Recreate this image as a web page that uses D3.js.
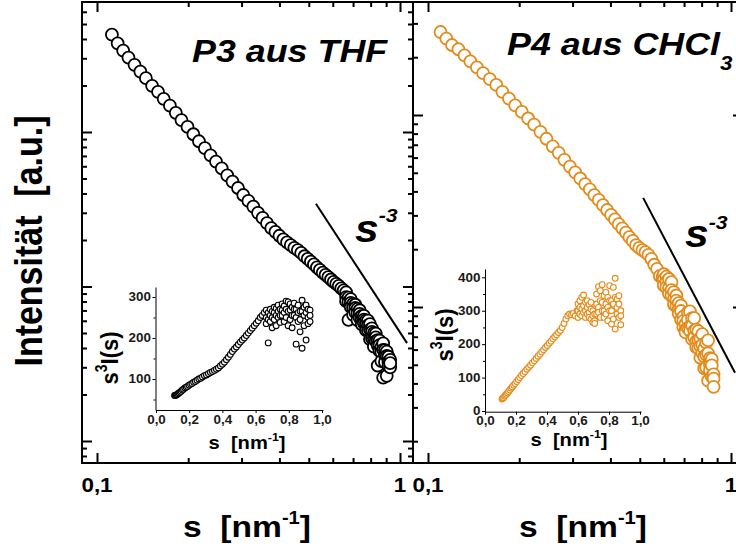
<!DOCTYPE html>
<html><head><meta charset="utf-8">
<script src="https://cdn.jsdelivr.net/npm/d3@7/dist/d3.min.js"></script>
<style>
body{margin:0;background:#fff;}
svg{display:block;}
text{font-family:"Liberation Sans",Arial,sans-serif;font-weight:bold;fill:#000;}
</style></head><body>
<svg id="chart" width="736" height="546"></svg>
<script>
// ---------------- data ----------------
// P3 aus THF : s [nm^-1], main intensity I (a.u.), inset s^3 I(s)
const p3TrendS=[0.112,0.117,0.122,0.127,0.133,0.139,0.145,0.152,0.159,0.166,0.174,0.182,0.190,0.199,0.208,0.217,0.227,0.237,0.247,0.258,0.269,0.280,0.292,0.304,0.316,0.328,0.340,0.352,0.364,0.376,0.388,0.400,0.412,0.424,0.436,0.448,0.460,0.472,0.484,0.496,0.508,0.520,0.532,0.544,0.556,0.568,0.580,0.592,0.604,0.616,0.628,0.640,0.652];
const p3TrendI=[42700,37500,33600,30300,27200,24600,22300,19900,18200,16400,14800,13300,11950,10780,9670,8710,7860,7060,6440,5820,5240,4780,4340,3910,3580,3290,3000,2780,2570,2390,2260,2130,2020,1930,1850,1780,1720,1650,1570,1510,1450,1390,1330,1280,1230,1190,1150,1110,1070,1040,1010,973,945];
const p3TrendV=[60,60,61,62,64,66,68,70,73,75,78,80,82,85,87,89,92,94,97,100,102,105,108,110,113,116,118,121,124,127,132,136,141,147,153,160,167,173,178,184,190,195,200,206,212,218,224,230,236,242,250,255,262];
const p3HiS=[0.664,0.676,0.688,0.700,0.712,0.724,0.736,0.748,0.760,0.772,0.784,0.796,0.808,0.820,0.832,0.844,0.856,0.868,0.880,0.892,0.904,0.916,0.928];
const p3HiUpperI=[915,848,829,773,762,717,702,645,645,604,602,571,536,499,495,449,447,405,429,388,379,351,335];
const p3HiMiddleI=[854,794,783,729,726,672,665,609,610,569,560,525,508,462,469,416,418,375,389,359,355,325,300];
const p3HiLowerI=[803,609,737,656,679,606,627,569,581,522,519,456,464,408,443,308,383,329,257,324,264,306,319];
const p3HiUpperV=[268,262,270,265,275,272,280,270,283,278,290,288,283,275,285,270,280,265,292,275,280,270,268];
const p3HiMiddleV=[250,245,255,250,262,255,265,255,268,262,270,265,268,255,270,250,262,245,265,255,262,250,240];
const p3HiLowerV=[235,188,240,225,245,230,250,238,255,240,250,230,245,225,255,185,240,215,175,230,195,235,255];

// P4 aus CHCl3
const p4TrendS=[0.110,0.115,0.120,0.126,0.132,0.138,0.145,0.152,0.160,0.168,0.176,0.185,0.194,0.204,0.214,0.224,0.235,0.246,0.258,0.270,0.282,0.294,0.306,0.318,0.330,0.342,0.354,0.366,0.378,0.390,0.402,0.414,0.426,0.438,0.450,0.462,0.474,0.486,0.498,0.510,0.522,0.534,0.546,0.558,0.570,0.582,0.594];
const p4TrendI=[27050,24990,23150,22000,20430,19020,17710,16520,15380,14340,13210,12160,11230,10370,9590,8900,8170,7520,6870,6350,5840,5390,5030,4670,4370,4100,3830,3610,3390,3200,3020,2860,2700,2570,2440,2310,2210,2100,2030,1980,1930,1870,1780,1660,1580,1450,1430];
const p4TrendV=[36,38,40,44,47,50,54,58,63,68,72,77,82,88,94,100,106,112,118,125,131,137,144,150,157,164,170,177,183,190,196,203,209,216,222,228,235,241,250,262,275,285,290,288,292,285,300];
const p4HiS=[0.600,0.612,0.624,0.636,0.648,0.660,0.672,0.684,0.696,0.708,0.720,0.732,0.744,0.756,0.768,0.780,0.792,0.804,0.816,0.828,0.840,0.852,0.864,0.876];
const p4HiUpperI=[1481,1439,1399,1349,1195,1148,1048,1016,890,817,938,948,874,875,762,748,684,722,607,652,670,542,535,446];
const p4HiMiddleI=[1389,1352,1255,1224,1103,1079,972,953,845,761,857,791,801,752,662,674,624,635,552,564,574,501,496,424];
const p4HiLowerI=[1296,1265,1173,1147,1029,1009,923,859,786,738,777,752,680,694,618,611,544,577,479,484,413,469,434,384];
const p4HiUpperV=[320,330,340,347,325,330,318,325,300,290,350,372,360,378,345,355,340,375,330,370,397,335,345,300];
const p4HiMiddleV=[300,310,305,315,300,310,295,305,285,270,320,310,330,325,300,320,310,330,300,320,340,310,320,285];
const p4HiLowerV=[280,290,285,295,280,290,280,275,265,262,290,295,280,300,280,290,270,300,260,275,245,290,280,258];

// s^-3 guide lines
const p3SlopeS=[0.528,1.055], p3SlopeI=[3430,430];
const p4SlopeS=[0.513,1.031], p4SlopeI=[3700,455];

// tick labels
const mainXTickValues=[0.1,1], mainXTickLabels=["0,1","1"];
const insetXTickValues=[0,0.2,0.4,0.6,0.8,1.0];
const insetXTickLabels=["0,0","0,2","0,4","0,6","0,8","1,0"];
const p3InsetYTicks=[100,200,300], p3InsetYMinor=[50,150,250];
const p4InsetYTicks=[0,100,200,300,400], p4InsetYMinor=[50,150,250,350];

// ---------------- drawing ----------------
const SX=1.12, ORANGE="#e38b1b";
const svg=d3.select("#chart");
svg.append("rect").attr("width",736).attr("height",546).attr("fill","#fff");

function pts(sArr,vArr){return sArr.map((s,k)=>({s:s,v:vArr[k]}));}
function txt(g,x,y,str,size,opts={}){
  const t=g.append("text")
    .attr("transform",`translate(${x},${y}) scale(${SX},1)`+(opts.rot?" rotate(-90)":""))
    .attr("font-size",size).attr("text-anchor",opts.anchor||"start");
  if(opts.italic) t.attr("font-style","italic");
  if(opts.fill) t.style("fill",opts.fill);
  return t;
}

function mainPanel(o){
  const g=svg.append("g");
  const x=d3.scaleLog().domain([0.1,1]).range(o.xr);
  const y=d3.scaleLog().domain(o.yd).range(o.yr);
  const data=[...pts(o.trendS,o.trendI),...pts(o.hiS,o.hiU),...pts(o.hiS,o.hiM),...pts(o.hiS,o.hiL)]
    .sort((a,b)=>a.s-b.s);
  g.append("g").selectAll("circle").data(data).join("circle")
    .attr("cx",d=>x(d.s)).attr("cy",d=>y(d.v)).attr("r",6)
    .attr("fill","#fff").attr("stroke",o.color).attr("stroke-width",1.8);
  g.append("path").datum(pts(o.lineS,o.lineI))
    .attr("d",d3.line().x(d=>x(d.s)).y(d=>y(d.v)))
    .attr("fill","none").attr("stroke","#000").attr("stroke-width",2);
  const xs=x.copy().domain([x.invert(o.x0),x.invert(o.x1)]).range([o.x0,o.x1]);
  const ys=y.copy().domain([y.invert(o.y1),y.invert(o.y0)]).range([o.y1,o.y0]);
  const isMaj=v=>Math.abs(Math.log10(v)-Math.round(Math.log10(v)))<1e-6;
  const xt=xs.ticks().filter(v=>xs(v)>o.x0+3&&xs(v)<o.x1-3);
  const yt=ys.ticks().filter(v=>ys(v)>o.y0+3&&ys(v)<o.y1-3);
  function ax(gen,tx,ty,vals,size){
    g.append("g").attr("transform",`translate(${tx},${ty})`)
      .call(gen.tickValues(vals).tickSize(size).tickSizeOuter(0).tickFormat(""))
      .call(a=>a.select(".domain").remove())
      .selectAll("line").attr("stroke","#000").attr("stroke-width",2);
  }
  const xMa=xt.filter(isMaj), xMi=xt.filter(v=>!isMaj(v));
  const yMa=yt.filter(isMaj), yMi=yt.filter(v=>!isMaj(v));
  ax(d3.axisBottom(xs),0,o.y1,xMa,-10); ax(d3.axisBottom(xs),0,o.y1,xMi,-5);
  ax(d3.axisTop(xs),0,o.y0,xMa,-10);    ax(d3.axisTop(xs),0,o.y0,xMi,-5);
  ax(d3.axisLeft(ys),o.x0,0,yMa,-10);   ax(d3.axisLeft(ys),o.x0,0,yMi,-5);
  ax(d3.axisRight(ys),o.x1,0,yMa,-10);  ax(d3.axisRight(ys),o.x1,0,yMi,-5);
  g.append("rect").attr("x",o.x0).attr("y",o.y0).attr("width",o.x1-o.x0).attr("height",o.y1-o.y0)
    .attr("fill","none").attr("stroke","#000").attr("stroke-width",2);
  mainXTickValues.forEach((v,k)=>{
    txt(g,x(v),492,null,20,{anchor:"middle"}).text(mainXTickLabels[k]);
  });
  return {x,y,g};
}

function inset(o){
  const g=svg.append("g");
  const x=d3.scaleLinear().domain([0,1]).range(o.xr);
  const y=d3.scaleLinear().domain(o.yd).range(o.yr);
  const xa=x.copy().domain([x.invert(o.ax0),x.invert(o.ax1)]).range([o.ax0,o.ax1]);
  const ya=y.copy().domain([y.invert(o.ay0),y.invert(o.ay1)]).range([o.ay0,o.ay1]);
  const data=[...pts(o.trendS,o.trendV),...pts(o.hiS,o.hiU),...pts(o.hiS,o.hiM),...pts(o.hiS,o.hiL)]
    .sort((a,b)=>a.s-b.s);
  g.append("g").selectAll("circle").data(data).join("circle")
    .attr("cx",d=>x(d.s)).attr("cy",d=>y(d.v)).attr("r",2.9)
    .attr("fill","#fff").attr("stroke",o.color).attr("stroke-width",1.1);
  const xg=g.append("g").attr("transform",`translate(0,${o.ay0})`)
    .call(d3.axisBottom(xa).tickValues(insetXTickValues).tickSize(3).tickSizeOuter(0).tickPadding(2)
      .tickFormat((d,i)=>insetXTickLabels[i]));
  const yg=g.append("g").attr("transform",`translate(${o.ax0},0)`)
    .call(d3.axisLeft(ya).tickValues(o.yTicks).tickSize(3).tickSizeOuter(0).tickPadding(1)
      .tickFormat(d=>String(d)));
  g.append("g").attr("transform",`translate(${o.ax0},0)`)
    .call(d3.axisLeft(ya).tickValues(o.yMinor).tickSize(2).tickSizeOuter(0).tickFormat(""))
    .call(a=>a.select(".domain").remove());
  [xg,yg].forEach(a=>{
    a.attr("font-family",null).attr("font-size",null);
    a.selectAll("text").attr("font-size",12).style("fill","#1a1a1a").attr("transform",`scale(${SX},1)`);
    a.selectAll("line,path").attr("stroke","#000").attr("stroke-width",1);
  });
  g.selectAll("line").attr("stroke","#000");
  const xt=txt(g,o.xTitle[0],o.xTitle[1],null,18,{anchor:"middle"});
  xt.append("tspan").text("s\u00a0\u00a0[nm");
  xt.append("tspan").attr("font-size",11).attr("dy",-8).text("-1");
  xt.append("tspan").attr("dy",8).text("]");
  const yt=txt(g,o.yTitle[0],o.yTitle[1],null,22,{anchor:"middle",rot:true});
  yt.append("tspan").text("s");
  yt.append("tspan").attr("font-size",14).attr("dy",-10).text("3");
  yt.append("tspan").attr("dy",10).text("I(s)");
}

const leftPanel=mainPanel({x0:82,x1:413,y0:2,y1:463,xr:[97,400],yd:[100,10000],yr:[441,132],
  color:"#000",trendS:p3TrendS,trendI:p3TrendI,hiS:p3HiS,hiU:p3HiUpperI,hiM:p3HiMiddleI,hiL:p3HiLowerI,
  lineS:p3SlopeS,lineI:p3SlopeI});
const rightPanel=mainPanel({x0:413,x1:743,y0:2,y1:463,xr:[428,731],yd:[1000,10000],yr:[307,115],
  color:ORANGE,trendS:p4TrendS,trendI:p4TrendI,hiS:p4HiS,hiU:p4HiUpperI,hiM:p4HiMiddleI,hiL:p4HiLowerI,
  lineS:p4SlopeS,lineI:p4SlopeI});

inset({xr:[156,322],yd:[0,300],yr:[420,297],ax0:155.5,ax1:323,ay0:410,ay1:287,color:"#000",
  trendS:p3TrendS,trendV:p3TrendV,hiS:p3HiS,hiU:p3HiUpperV,hiM:p3HiMiddleV,hiL:p3HiLowerV,
  yTicks:p3InsetYTicks,yMinor:p3InsetYMinor,xTitle:[247,449],yTitle:[118,358]});
inset({xr:[485,640],yd:[0,400],yr:[411,277.3],ax0:485,ax1:641,ay0:411.7,ay1:269,color:ORANGE,
  trendS:p4TrendS,trendV:p4TrendV,hiS:p4HiS,hiU:p4HiUpperV,hiM:p4HiMiddleV,hiL:p4HiLowerV,
  yTicks:p4InsetYTicks,yMinor:p4InsetYMinor,xTitle:[569,446],yTitle:[453,335]});

const labelLayer=svg.append("g");
txt(labelLayer,192,62,null,32,{italic:true}).text("P3 aus THF");
const t2=txt(labelLayer,507,55,null,32,{italic:true});
t2.append("tspan").text("P4 aus CHCl");
t2.append("tspan").attr("font-size",20).attr("dy",15).text("3");

function slopeLabel(x,y,dy){
  const t=txt(labelLayer,x,y,null,38,{italic:true});
  t.append("tspan").text("s");
  t.append("tspan").attr("font-size",19).attr("dy",dy).text("-3");
}
slopeLabel(355,242,-20);
slopeLabel(685,247,-18);

function xTitle(cx){
  const t=txt(labelLayer,cx,537,null,30,{anchor:"middle"});
  t.append("tspan").text("s\u00a0\u00a0[nm");
  t.append("tspan").attr("font-size",18).attr("dy",-13).text("-1");
  t.append("tspan").attr("dy",13).text("]");
}
xTitle(247); xTitle(583);
txt(labelLayer,42,241,null,34,{anchor:"middle",rot:true}).text("Intensität\u00a0\u00a0[a.u.]");
</script>
</body></html>
